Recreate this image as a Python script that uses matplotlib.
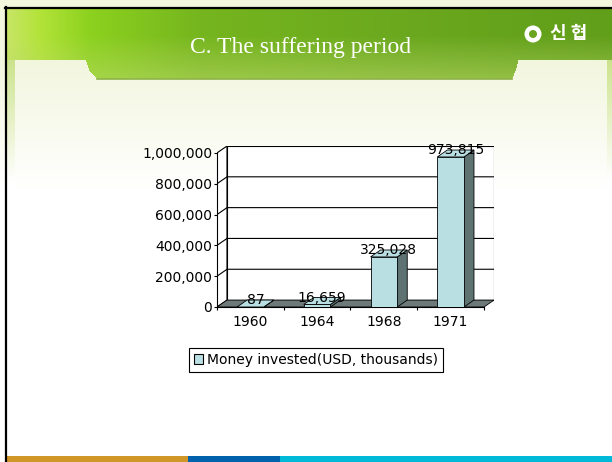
import numpy as np
import matplotlib.pyplot as plt
from matplotlib.path import Path
from matplotlib.patches import Polygon, Rectangle, Patch, Circle
from matplotlib.ticker import FuncFormatter

years = ['1960', '1964', '1968', '1971']
invested = [87, 16659, 325028, 973815]
yticks = [0, 200000, 400000, 600000, 800000, 1000000]
series_name = 'Money invested(USD, thousands)'
title = 'C. The suffering period'

front_c = '#b9dfe2'
side_c = '#5e7272'
floor_c = '#6e7a7a'

fig = plt.figure(figsize=(6.12, 4.62), dpi=100)

# ---- slide background (pixel coords) ----
H, W = 462, 612
yy, xx = np.mgrid[0:H, 0:W]
t = np.clip((yy - 60) / 130.0, 0, 1)[..., None]
cream = np.array([0.95, 0.965, 0.87])
img = cream * (1 - t) + np.ones(3) * t

# header green with the tab in the middle
tab = Path([(85, 58), (89, 70), (97, 79), (512, 79), (516, 70), (519, 58)])
inside_tab = tab.contains_points(np.c_[xx.ravel() + 0.5, yy.ravel() + 0.5]).reshape(H, W)
hdr = ((yy >= 9) & (yy < 60) & (xx >= 7)) | inside_tab
stops_x = [7, 40, 90, 200, 400, 612]
stops_c = np.array([(0.78, 0.90, 0.40), (0.70, 0.89, 0.22), (0.55, 0.82, 0.12),
                    (0.46, 0.71, 0.12), (0.42, 0.66, 0.12), (0.38, 0.62, 0.10)])
green = np.stack([np.interp(xx, stops_x, stops_c[:, k]) for k in range(3)], axis=-1)
s = np.clip((yy - 35) / 45.0, 0, 1)[..., None] * 0.55
green = green * (1 - s) + np.array([0.74, 0.85, 0.42]) * s
img[hdr] = green[hdr]
# pale strips on both sides of the panel
strip = (((xx >= 7) & (xx < 15)) | (xx >= 607)) & (yy >= 60)
fade = np.clip((yy - 60) / 120.0, 0, 1)[..., None]
pale = np.array([0.80, 0.89, 0.55]) * (1 - fade) + np.ones(3) * fade
img[strip] = pale[strip]

bg = fig.add_axes([0, 0, 1, 1])
bg.imshow(img, extent=(0, W, H, 0), interpolation='bilinear', aspect='auto')
bg.set_xlim(0, W)
bg.set_ylim(H, 0)
bg.axis('off')

bg.plot([97, 512], [79, 79], color='#8fb24a', lw=1.2)
bg.plot([5.5, 5.5], [7, 462], color='black', lw=1.6)
bg.plot([5, 612], [7.5, 7.5], color='black', lw=1.6)
bg.add_patch(Rectangle((7, 456), 181, 6, color='#d09628', lw=0))
bg.add_patch(Rectangle((188, 456), 92, 6, color='#0062ac', lw=0))
bg.add_patch(Rectangle((280, 456), 332, 6, color='#00b8d8', lw=0))

bg.text(301, 47, title, ha='center', va='center', color='white',
        fontsize=17, family='Liberation Serif')
bg.add_patch(Circle((533, 34), 8.5, color='white', lw=0))
bg.add_patch(Circle((533, 34), 4, color='#6aa420', lw=0))
bg.text(569, 34, '신 협', ha='center', va='center', color='white',
        fontsize=13, fontweight='bold', family=['Noto Sans CJK KR', 'DejaVu Sans'])

# ---- 3D-looking column chart ----
dx, dy = 0.15, 45000
w = 0.4
top = yticks[-1]

ax = fig.add_axes([217 / 612, 155 / 462, 277 / 612, 161 / 462])
ax.set_xlim(-0.5, 3.5 + dx)
ax.set_ylim(0, top + dy)
ax.patch.set_visible(False)
for sp in ['top', 'right']:
    ax.spines[sp].set_visible(False)
ax.spines['left'].set_bounds(0, top)
ax.spines['bottom'].set_bounds(-0.5, 3.5)
ax.spines['left'].set_linewidth(0.8)
ax.spines['bottom'].set_linewidth(0.8)

# walls
ax.add_patch(Polygon([(-0.5, 0), (-0.5 + dx, dy), (-0.5 + dx, top + dy), (-0.5, top)],
                     facecolor='white', edgecolor='black', lw=0.8, zorder=1))
ax.add_patch(Rectangle((-0.5 + dx, dy), 4, top, facecolor='white',
                       edgecolor='black', lw=0.8, zorder=1))
for v in yticks[1:-1]:
    ax.plot([-0.5, -0.5 + dx, 3.5 + dx], [v, v + dy, v + dy], color='black', lw=0.8, zorder=1.5)
# floor
ax.add_patch(Polygon([(-0.5, 0), (3.5, 0), (3.5 + dx, dy), (-0.5 + dx, dy)],
                     facecolor=floor_c, edgecolor='black', lw=0.6, zorder=2))

for i, v in enumerate(invested):
    x0, x1 = i - w / 2, i + w / 2
    ax.add_patch(Polygon([(x1, 0), (x1 + dx, dy), (x1 + dx, v + dy), (x1, v)],
                         facecolor=side_c, edgecolor='black', lw=0.6, zorder=3))
    ax.add_patch(Polygon([(x0, v), (x0 + dx, v + dy), (x1 + dx, v + dy), (x1, v)],
                         facecolor=front_c, edgecolor='black', lw=0.6, zorder=3))
    ax.add_patch(Rectangle((x0, 0), w, v, facecolor=front_c, edgecolor='black',
                           lw=0.6, zorder=3))
    ax.text(i + dx / 2, v + dy, f'{v:,}', ha='center', va='center', fontsize=10, zorder=5)

ax.set_yticks(yticks)
ax.yaxis.set_major_formatter(FuncFormatter(lambda v, p: f'{int(v):,}'))
ax.tick_params(axis='y', length=2.5, width=0.8, pad=1, labelsize=10)
ax.set_xticks([-0.5, 0.5, 1.5, 2.5, 3.5])
ax.set_xticklabels([])
ax.set_xticks(range(len(years)), minor=True)
ax.set_xticklabels(years, minor=True)
ax.tick_params(axis='x', which='major', length=2.5, width=0.8)
ax.tick_params(axis='x', which='minor', length=0, pad=5.5, labelsize=10)

leg = fig.legend(handles=[Patch(facecolor=front_c, edgecolor='black', lw=0.8, label=series_name)],
                 loc='center', bbox_to_anchor=(316 / 612, 1 - 360 / 462), frameon=True,
                 fancybox=False, edgecolor='black', framealpha=1, fontsize=10,
                 handlelength=0.7, handleheight=0.7, handletextpad=0.3,
                 borderpad=0.35, borderaxespad=0)
leg.get_frame().set_linewidth(0.8)

fig.savefig('out.png', dpi=100)
